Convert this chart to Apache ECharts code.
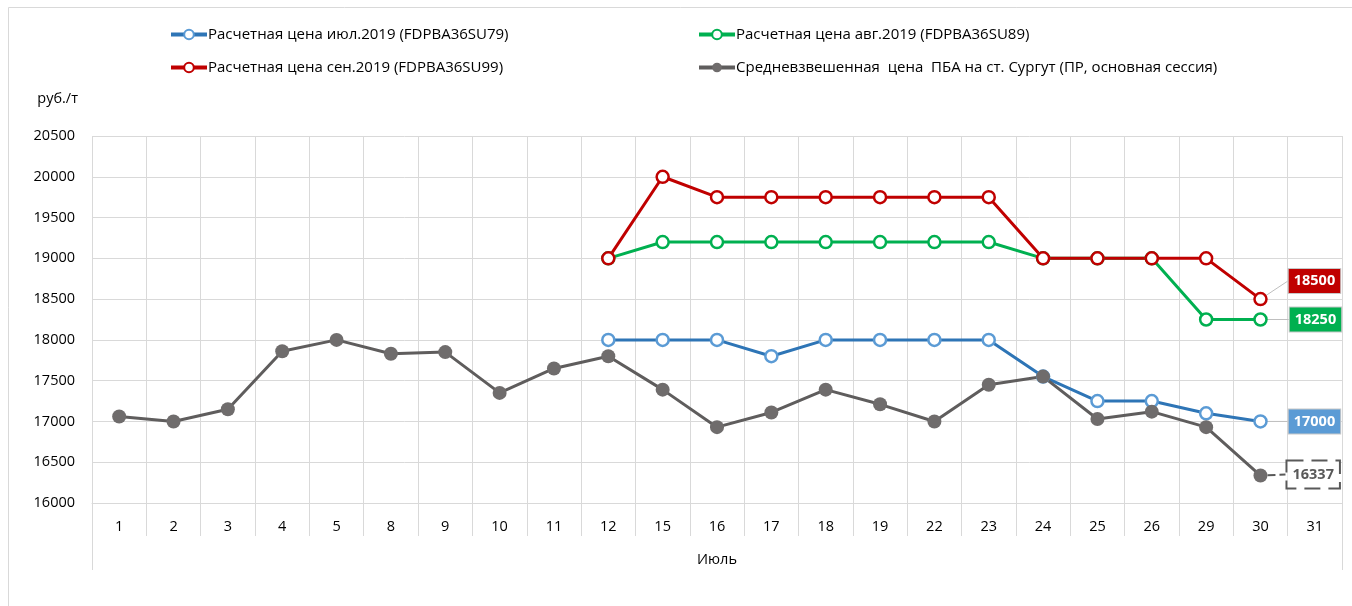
<!DOCTYPE html>
<html>
<head>
<meta charset="utf-8">
<script src="https://cdn.jsdelivr.net/npm/echarts@6/dist/echarts.min.js"></script>
<style>
  html, body { margin: 0; padding: 0; background: #fff; }
  #chart { width: 1352px; height: 606px; }
</style>
</head>
<body>
<div id="chart"></div>
<script>
// Trading days of July 2019
const days = ['1','2','3','4','5','8','9','10','11','12','15','16','17','18','19','22','23','24','25','26','29','30','31'];
const monthLabel = 'Июль';
const unitLabel = 'руб./т';

const nameJul = 'Расчетная цена июл.2019 (FDPBA36SU79)';
const nameAug = 'Расчетная цена авг.2019 (FDPBA36SU89)';
const nameSep = 'Расчетная цена сен.2019 (FDPBA36SU99)';
const nameAvg = 'Средневзвешенная  цена  ПБА на ст. Сургут (ПР, основная сессия)';

const julValues = [null,null,null,null,null,null,null,null,null,18000,18000,18000,17800,18000,18000,18000,18000,17550,17250,17250,17100,17000,null];
const augValues = [null,null,null,null,null,null,null,null,null,19000,19200,19200,19200,19200,19200,19200,19200,19000,19000,19000,18250,18250,null];
const sepValues = [null,null,null,null,null,null,null,null,null,19000,20000,19750,19750,19750,19750,19750,19750,19000,19000,19000,19000,18500,null];
const avgValues = [17060,17000,17150,17860,18000,17830,17850,17350,17650,17800,17390,16930,17110,17390,17210,17000,17450,17550,17030,17120,16930,16337,null];

const yTicks = { min: 16000, max: 20500, step: 500 };

const FONT = '"Open Sans", "Noto Sans", sans-serif';
const GRID = '#D9D9D9';
const TEXT = '#000';

// Attach a value label to the last non-empty point of a series
function withEndLabel(values, labelStyle) {
  let last = -1;
  values.forEach((v, i) => { if (v !== null) last = i; });
  return values.map((v, i) => {
    if (i !== last) return v;
    return { value: v, label: Object.assign({ show: true, position: 'right', distance: 5, formatter: '{c}',
      fontFamily: FONT, fontSize: 14.5, fontWeight: 'bold', padding: [5, 5, 4, 5] }, labelStyle) };
  });
}

function lineSeries(name, values, lineColor, markerColor, hollow, labelStyle, layout, leader) {
  return {
    name: name,
    type: 'line',
    data: withEndLabel(values, labelStyle),
    symbol: 'circle',
    symbolSize: hollow ? 12 : 14,
    showAllSymbol: true,
    connectNulls: false,
    lineStyle: { color: lineColor, width: 3 },
    itemStyle: hollow
      ? { color: '#fff', borderColor: markerColor, borderWidth: 2.5 }
      : { color: markerColor, borderColor: markerColor, borderWidth: 0 },
    emphasis: { disabled: true },
    labelLayout: layout,
    labelLine: { show: true, smooth: false, length2: 0, lineStyle: leader }
  };
}

function legendBlock(names, left) {
  return {
    data: names, orient: 'vertical', left: left, top: 22,
    itemWidth: 36, itemHeight: 12, itemGap: 18, selectedMode: false,
    lineStyle: { width: 4 },
    textStyle: { fontFamily: FONT, fontSize: 15, color: TEXT, padding: [0, 0, 0, -4] }
  };
}

const chart = echarts.init(document.getElementById('chart'), null, { renderer: 'canvas' });

chart.setOption({
  animation: false,
  backgroundColor: '#fff',
  textStyle: { fontFamily: FONT },
  graphic: [{
    type: 'rect', silent: true, z: -10,
    shape: { x: 8.5, y: 7.5, width: 1400, height: 700 },
    style: { fill: 'none', stroke: GRID, lineWidth: 1 }
  }],
  legend: [legendBlock([nameJul, nameSep], 164), legendBlock([nameAug, nameAvg], 692)],
  grid: { left: 92, right: 10, top: 136, bottom: 103, containLabel: false },
  xAxis: [
    {
      type: 'category', data: days, boundaryGap: true,
      axisLine: { show: true, lineStyle: { color: GRID, width: 1 } },
      axisTick: { show: true, interval: 0, length: 33, lineStyle: { color: GRID } },
      axisLabel: { interval: 0, margin: 16, fontSize: 14.5, color: TEXT, fontFamily: FONT },
      splitLine: { show: true, interval: 0, lineStyle: { color: GRID, width: 1 } }
    },
    {
      type: 'category', data: [monthLabel], boundaryGap: true, position: 'bottom',
      axisLine: { show: false },
      axisTick: { show: true, length: 67, lineStyle: { color: GRID } },
      axisLabel: { margin: 49, fontSize: 14.5, color: TEXT, fontFamily: FONT },
      splitLine: { show: false }
    }
  ],
  yAxis: {
    type: 'value', min: yTicks.min, max: yTicks.max, interval: yTicks.step,
    name: unitLabel, nameLocation: 'end', nameGap: 30,
    nameTextStyle: { fontSize: 14.5, color: TEXT, align: 'right', padding: [0, 14, 0, 0], fontFamily: FONT },
    axisLine: { show: false }, axisTick: { show: false },
    axisLabel: { margin: 17, fontSize: 14.5, color: TEXT, fontFamily: FONT, formatter: (v) => String(v) },
    splitLine: { show: true, lineStyle: { color: GRID, width: 1 } }
  },
  series: [
    lineSeries(nameJul, julValues, '#2E75B6', '#5B9BD5', true,
      { color: '#fff', backgroundColor: '#5B9BD5', borderColor: '#C8C8C8', borderWidth: 1 },
      { dx: 16, dy: 0 }, { color: '#BFBFBF', width: 1 }),
    lineSeries(nameAug, augValues, '#00B050', '#00B050', true,
      { color: '#fff', backgroundColor: '#00B050', borderColor: '#C8C8C8', borderWidth: 1 },
      { dx: 17, dy: 0 }, { color: '#BFBFBF', width: 1 }),
    lineSeries(nameSep, sepValues, '#C00000', '#C00000', true,
      { color: '#fff', backgroundColor: '#C00000', borderColor: '#C8C8C8', borderWidth: 1 },
      { dx: 16, dy: -18 }, { color: '#BFBFBF', width: 1 }),
    lineSeries(nameAvg, avgValues, '#5F5D5D', '#6F6C6C', false,
      { color: '#595959', backgroundColor: '#fff', borderColor: '#595959', borderWidth: 2, borderType: 'dashed', padding: [6, 5, 5, 5] },
      { dx: 15, dy: -1 }, { color: '#595959', width: 2, type: 'dashed' })
  ]
});
</script>
</body>
</html>
